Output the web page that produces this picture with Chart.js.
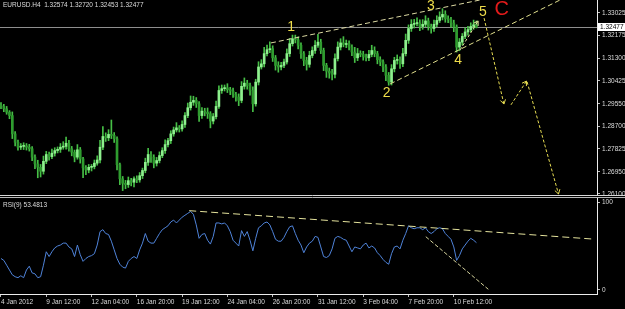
<!DOCTYPE html>
<html>
<head>
<meta charset="utf-8">
<title>EURUSD H4</title>
<script src="https://cdn.jsdelivr.net/npm/chart.js@4.4.1/dist/chart.umd.min.js"></script>
<style>
  html, body { margin: 0; padding: 0; background: #000; }
  #wrap { position: relative; width: 625px; height: 309px; overflow: hidden; background: #000; }
  canvas { position: absolute; left: 0; }
  #mainChart { top: 0; }
  #rsiChart { top: 197px; }
</style>
</head>
<body>
<div id="wrap">
  <canvas id="mainChart" width="625" height="196"></canvas>
  <canvas id="rsiChart" width="625" height="112"></canvas>
</div>
<script>
// ── Data ─────────────────────────────────────────────────────────
const symbol = 'EURUSD.H4';
const firstOpen = 1.2950;
const closes = [
  1.2945, 1.2936, 1.2923, 1.2910, 1.2840, 1.2808, 1.2789, 1.2792, 1.2794, 1.2789,
  1.2783, 1.2751, 1.2725, 1.2712, 1.2697, 1.2735, 1.2761, 1.2753, 1.2766, 1.2776,
  1.2781, 1.2789, 1.2792, 1.2804, 1.2783, 1.2770, 1.2751, 1.2779, 1.2744, 1.2710,
  1.2702, 1.2712, 1.2715, 1.2728, 1.2740, 1.2789, 1.2830, 1.2825, 1.2838, 1.2834,
  1.2821, 1.2722, 1.2668, 1.2651, 1.2646, 1.2661, 1.2655, 1.2668, 1.2664, 1.2680,
  1.2700, 1.2731, 1.2761, 1.2751, 1.2728, 1.2738, 1.2757, 1.2776, 1.2799, 1.2814,
  1.2840, 1.2855, 1.2863, 1.2859, 1.2876, 1.2910, 1.2940, 1.2961, 1.2968, 1.2955,
  1.2910, 1.2927, 1.2923, 1.2917, 1.2889, 1.2906, 1.2945, 1.3006, 1.3013, 1.3016,
  1.3009, 1.3004, 1.2991, 1.2981, 1.2968, 1.3022, 1.3034, 1.3025, 1.3006, 1.2955,
  1.3038, 1.3096, 1.3108, 1.3147, 1.3162, 1.3166, 1.3131, 1.3102, 1.3096, 1.3102,
  1.3115, 1.3147, 1.3185, 1.3204, 1.3200, 1.3179, 1.3147, 1.3121, 1.3106, 1.3140,
  1.3159, 1.3179, 1.3191, 1.3159, 1.3102, 1.3080, 1.3073, 1.3068, 1.3128, 1.3172,
  1.3188, 1.3182, 1.3185, 1.3172, 1.3153, 1.3131, 1.3147, 1.3144, 1.3136, 1.3131,
  1.3144, 1.3159, 1.3147, 1.3124, 1.3115, 1.3096, 1.3064, 1.3038, 1.3089, 1.3121,
  1.3124, 1.3108, 1.3147, 1.3198, 1.3243, 1.3259, 1.3262, 1.3264, 1.3251, 1.3259,
  1.3272, 1.3251, 1.3243, 1.3259, 1.3274, 1.3287, 1.3297, 1.3281, 1.3277, 1.3264,
  1.3249, 1.3172, 1.3191, 1.3213, 1.3230, 1.3239, 1.3251, 1.32574, 1.32477
];
// wick lengths in pips above / below the candle body
const upperWick = [
  10, 8, 9, 6, 14, 9, 8, 11, 12, 9,
  11, 8, 9, 14, 11, 20, 12, 9, 16, 11,
  9, 14, 18, 24, 11, 9, 8, 20, 9, 6,
  9, 11, 8, 12, 16, 26, 38, 14, 18, 55,
  11, 8, 6, 9, 11, 14, 9, 8, 11, 12,
  9, 16, 24, 11, 9, 12, 14, 11, 18, 9,
  12, 11, 20, 9, 14, 11, 18, 24, 16, 11,
  9, 14, 11, 16, 8, 12, 20, 18, 14, 11,
  16, 9, 11, 8, 12, 18, 20, 11, 9, 14,
  11, 20, 16, 24, 18, 26, 11, 9, 14, 12,
  11, 18, 20, 14, 14, 11, 9, 8, 12, 16,
  14, 18, 30, 11, 9, 8, 12, 14, 18, 20,
  16, 24, 14, 11, 9, 18, 20, 11, 12, 9,
  16, 20, 14, 9, 11, 8, 9, 11, 16, 12,
  18, 11, 20, 24, 14, 18, 16, 20, 12, 18,
  20, 11, 9, 16, 18, 20, 22, 14, 11, 9,
  11, 8, 14, 11, 16, 12, 14, 18, 14.6
];
const lowerWick = [
  9, 11, 8, 12, 18, 14, 11, 9, 12, 11,
  9, 14, 18, 40, 22, 11, 9, 14, 8, 11,
  9, 12, 8, 11, 9, 14, 18, 8, 16, 38,
  18, 11, 14, 9, 8, 11, 9, 14, 11, 12,
  14, 20, 22, 28, 16, 11, 14, 18, 11, 9,
  11, 9, 12, 20, 18, 11, 9, 8, 11, 9,
  11, 9, 8, 12, 9, 11, 8, 9, 12, 14,
  22, 11, 14, 18, 26, 11, 9, 8, 11, 9,
  11, 14, 12, 16, 20, 9, 11, 14, 18, 30,
  9, 11, 8, 12, 9, 11, 14, 18, 20, 11,
  9, 8, 11, 9, 12, 14, 18, 20, 22, 11,
  9, 11, 8, 12, 20, 24, 20, 22, 14, 9,
  11, 9, 12, 11, 14, 18, 11, 9, 14, 12,
  11, 9, 12, 16, 14, 18, 20, 12, 11, 12,
  14, 18, 11, 9, 12, 11, 14, 9, 16, 11,
  9, 14, 18, 11, 9, 8, 11, 14, 12, 16,
  18, 19, 14, 11, 9, 12, 8, 11, 2.4
];
const rsiValues = [
  37, 35, 30, 25, 20, 18, 17, 19, 17, 25,
  29, 22, 21, 17, 18, 30, 44, 39, 44, 48,
  50, 51, 53, 53, 49, 47, 39, 51, 41, 34,
  37, 39, 40, 42, 51, 65, 67, 63, 62, 55,
  46, 37, 31, 28, 27, 34, 37, 39, 37, 46,
  53, 63, 55, 53, 53, 58, 63, 67, 69, 71,
  75, 77, 74, 77, 80, 82, 84, 86, 83, 72,
  58, 62, 63, 56, 52, 60, 74, 74, 73, 74,
  71, 65, 56, 53, 50, 66, 60, 65, 56, 45,
  58, 69, 71, 74, 75, 72, 65, 57, 55, 55,
  59, 65, 70, 71, 63, 56, 51, 43, 49, 53,
  55, 60, 59, 49, 39, 38, 40, 47, 58, 60,
  59, 57, 56, 50, 44, 49, 48, 47, 51, 53,
  48, 50, 48, 43, 40, 36, 33, 31, 42, 49,
  50, 47, 56, 63, 71, 69, 68, 69, 69, 67,
  69, 65, 63, 65, 68, 69, 68, 63, 60, 57,
  49, 35, 40, 47, 51, 55, 58, 56, 53.4813
];
const priceTicks = [1.26100, 1.26950, 1.27825, 1.28700, 1.29550, 1.30425, 1.31300, 1.32175, 1.33025];
const timeLabels = ['4 Jan 2012', '9 Jan 12:00', '12 Jan 04:00', '16 Jan 20:00', '19 Jan 12:00',
  '24 Jan 04:00', '26 Jan 20:00', '31 Jan 12:00', '3 Feb 04:00', '7 Feb 20:00', '10 Feb 12:00'];
const timeLabelBars = [0, 16, 32, 48, 64, 80, 96, 112, 128, 144, 160];
const rsiTickLabels = ['100', '0'];
const rsiTickLevels = [95.3, 4.2];   // MT4 pulls the 100 / 0 labels inside the window

// wave counting drawn on the chart (bar index, price)
const waveLabels = ['1', '2', '3', '4', '5', 'C'];
const waveBars = [102.5, 136.3, 151.9, 161.5, 170.3, 176.9];
const wavePrices = [1.3247, 1.2996, 1.3329, 1.3123, 1.3306, 1.3315];

// trend lines and projection arrows (bar index, value)
const upperTrend = [[95.4, 1.3188], [170.5, 1.3355]];
const lowerTrend = [[137.5, 1.3031], [197.5, 1.3352]];
const smallArrow = [[162.2, 1.3161], [168.6, 1.3272]];
const projDown1 = [[170.7, 1.3283], [177.7, 1.2954]];
const projUp = [[180.2, 1.2951], [185.7, 1.3042]];
const projDown2 = [[185.9, 1.3039], [197.0, 1.2610]];
const rsiTrend1 = [[66.5, 86.8], [208.8, 57.3]];
const rsiTrend2 = [[150.1, 59.7], [172.2, 4.9]];

// ── Derived candle values ────────────────────────────────────────
const pip = 0.0001;
const opens = [firstOpen, ...closes.slice(0, -1)];
const highs = closes.map((c, i) => Math.max(c, opens[i]) + upperWick[i] * pip);
const lows = closes.map((c, i) => Math.min(c, opens[i]) - lowerWick[i] * pip);
const last = closes.length - 1;
const bidPrice = closes[last];

// ── Styling ──────────────────────────────────────────────────────
const fontFamily = '"Liberation Sans", Arial, sans-serif';
const smallFont = { family: fontFamily, size: 6.5 };
const textColor = '#dcdcdc';
const axisColor = '#ececec';
const xMin = -0.35;
const xMax = 210.6;

Chart.defaults.animation = false;
Chart.defaults.events = [];

function pts(arr) {
  return arr.map(p => ({ x: p[0], y: p[1] }));
}

function trendLine(arr, color, dash, arrow) {
  return {
    type: 'line',
    data: pts(arr),
    borderColor: color,
    borderWidth: 1,
    borderDash: dash,
    pointRadius: 0,
    fill: false,
    order: 1,
    arrow: !!arrow
  };
}

function drawArrowHead(ctx, p0, p1, color) {
  const ang = Math.atan2(p1.y - p0.y, p1.x - p0.x);
  const len = 5;
  ctx.save();
  ctx.strokeStyle = color;
  ctx.lineWidth = 1;
  ctx.setLineDash([]);
  ctx.beginPath();
  ctx.moveTo(p1.x - len * Math.cos(ang - 0.55), p1.y - len * Math.sin(ang - 0.55));
  ctx.lineTo(p1.x, p1.y);
  ctx.lineTo(p1.x - len * Math.cos(ang + 0.55), p1.y - len * Math.sin(ang + 0.55));
  ctx.stroke();
  ctx.restore();
}

// ── Main price window ────────────────────────────────────────────
const mainDecor = {
  id: 'mainDecor',
  beforeDatasetsDraw(chart) {
    const { ctx, chartArea: a, scales: { y } } = chart;
    const by = Math.round(y.getPixelForValue(bidPrice)) + 0.5;
    ctx.save();
    ctx.strokeStyle = '#8e8e8e';
    ctx.lineWidth = 1;
    ctx.beginPath();
    ctx.moveTo(a.left, by);
    ctx.lineTo(a.right, by);
    ctx.stroke();
    ctx.restore();
  },
  afterDatasetsDraw(chart) {
    const { ctx, scales: { x, y } } = chart;
    chart.data.datasets.forEach((ds, i) => {
      if (!ds.arrow) return;
      const p = chart.getDatasetMeta(i).data;
      drawArrowHead(ctx, p[p.length - 2], p[p.length - 1], ds.borderColor);
    });
    ctx.save();
    ctx.textAlign = 'center';
    ctx.textBaseline = 'middle';
    waveLabels.forEach((t, i) => {
      ctx.fillStyle = t === 'C' ? '#e31b1b' : '#eedc4a';
      ctx.font = (t === 'C' ? 20 : 14) + 'px ' + fontFamily;
      ctx.fillText(t, x.getPixelForValue(waveBars[i]), y.getPixelForValue(wavePrices[i]));
    });
    ctx.restore();
  },
  afterDraw(chart) {
    const { ctx, chartArea: a, scales: { y } } = chart;
    ctx.save();
    // window bottom edge
    ctx.strokeStyle = '#d8d8d8';
    ctx.lineWidth = 1;
    ctx.beginPath();
    ctx.moveTo(0, a.bottom + 0.5);
    ctx.lineTo(chart.width, a.bottom + 0.5);
    ctx.stroke();
    // title with last bar OHLC
    ctx.font = '6.5px ' + fontFamily;
    ctx.fillStyle = textColor;
    ctx.textBaseline = 'middle';
    ctx.textAlign = 'left';
    const title = symbol + '  ' + [opens[last], highs[last], lows[last], closes[last]]
      .map(v => v.toFixed(5)).join(' ');
    ctx.fillText(title, 3, 5);
    // bid price box on the axis
    const by = Math.round(y.getPixelForValue(bidPrice));
    ctx.fillStyle = '#ffffff';
    ctx.fillRect(a.right + 1, by - 4, chart.width - a.right - 1, 8);
    ctx.fillStyle = '#000000';
    ctx.fillText(bidPrice.toFixed(5), a.right + 3, by + 0.5);
    ctx.restore();
  }
};

new Chart(document.getElementById('mainChart'), {
  type: 'bar',
  data: {
    datasets: [
      trendLine(upperTrend, '#dcd9a2', [5, 3]),
      trendLine(lowerTrend, '#e2e08e', [5, 3]),
      trendLine(smallArrow, '#e8e6a0', [3, 2], true),
      trendLine(projDown1, '#e6dc52', [3, 2], true),
      trendLine(projUp, '#e6dc52', [3, 2], true),
      trendLine(projDown2, '#e6dc52', [3, 2], true),
      {
        type: 'bar',
        data: closes.map((c, i) => ({ x: i, y: [opens[i], c] })),
        backgroundColor: ctx => (closes[ctx.dataIndex] >= opens[ctx.dataIndex] ? '#8ef08e' : '#2f9c2f'),
        barThickness: 2,
        minBarLength: 1,
        grouped: false,
        order: 2
      },
      {
        type: 'bar',
        data: closes.map((c, i) => ({ x: i, y: [lows[i], highs[i]] })),
        backgroundColor: '#46bf46',
        barThickness: 1,
        grouped: false,
        order: 3
      }
    ]
  },
  options: {
    responsive: false,
    layout: { padding: { left: 0, right: 0, top: 0, bottom: 1 } },
    plugins: { legend: { display: false }, tooltip: { enabled: false } },
    scales: {
      x: { type: 'linear', min: xMin, max: xMax, offset: false, display: false },
      y: {
        position: 'right',
        min: 1.26061,
        max: 1.33522,
        afterBuildTicks: s => { s.ticks = priceTicks.map(v => ({ value: v })); },
        afterFit: s => { s.width = 28; s.paddingTop = 0; s.paddingBottom = 0; },
        ticks: { callback: v => v.toFixed(5), color: textColor, font: smallFont, padding: 2 },
        grid: { drawOnChartArea: false, color: '#bdbdbd', tickLength: 3 },
        border: { color: axisColor }
      }
    }
  },
  plugins: [mainDecor]
});

// ── RSI window ───────────────────────────────────────────────────
const rsiDecor = {
  id: 'rsiDecor',
  afterDraw(chart) {
    const { ctx, chartArea: a } = chart;
    ctx.save();
    ctx.strokeStyle = '#b8b8b8';
    ctx.lineWidth = 1;
    ctx.beginPath();
    ctx.moveTo(0, a.top - 0.5);
    ctx.lineTo(chart.width, a.top - 0.5);
    ctx.stroke();
    ctx.font = '6.5px ' + fontFamily;
    ctx.fillStyle = textColor;
    ctx.textBaseline = 'middle';
    ctx.fillText('RSI(9) ' + rsiValues[last].toFixed(4), 3, a.top + 7);
    ctx.restore();
  }
};

new Chart(document.getElementById('rsiChart'), {
  type: 'line',
  data: {
    datasets: [
      trendLine(rsiTrend1, '#e4e29c', [7, 4]),
      trendLine(rsiTrend2, '#d6d49e', [4, 2]),
      {
        data: rsiValues.map((v, i) => ({ x: i, y: v })),
        borderColor: '#4f83d9',
        borderWidth: 1,
        pointRadius: 0,
        tension: 0,
        order: 2
      }
    ]
  },
  options: {
    responsive: false,
    layout: { padding: { left: 0, right: 0, top: 1, bottom: 0 } },
    plugins: { legend: { display: false }, tooltip: { enabled: false } },
    scales: {
      x: {
        type: 'linear',
        min: xMin,
        max: xMax,
        afterBuildTicks: s => { s.ticks = timeLabelBars.map(v => ({ value: v })); },
        afterFit: s => { s.height = 15; s.paddingLeft = 0; s.paddingRight = 0; },
        ticks: {
          callback: (v, i) => timeLabels[i],
          align: 'start',
          color: textColor,
          font: smallFont,
          padding: 1,
          maxRotation: 0,
          autoSkip: false
        },
        grid: { drawOnChartArea: false, color: '#bdbdbd', tickLength: 3 },
        border: { color: axisColor }
      },
      y: {
        position: 'right',
        min: 0,
        max: 100,
        afterBuildTicks: s => { s.ticks = rsiTickLevels.map(v => ({ value: v })); },
        afterFit: s => { s.width = 28; s.paddingTop = 0; s.paddingBottom = 0; },
        ticks: { callback: (v, i) => rsiTickLabels[i], color: textColor, font: smallFont, padding: 2 },
        grid: { drawOnChartArea: false, color: '#bdbdbd', tickLength: 3 },
        border: { color: axisColor }
      }
    }
  },
  plugins: [rsiDecor]
});
</script>
</body>
</html>
